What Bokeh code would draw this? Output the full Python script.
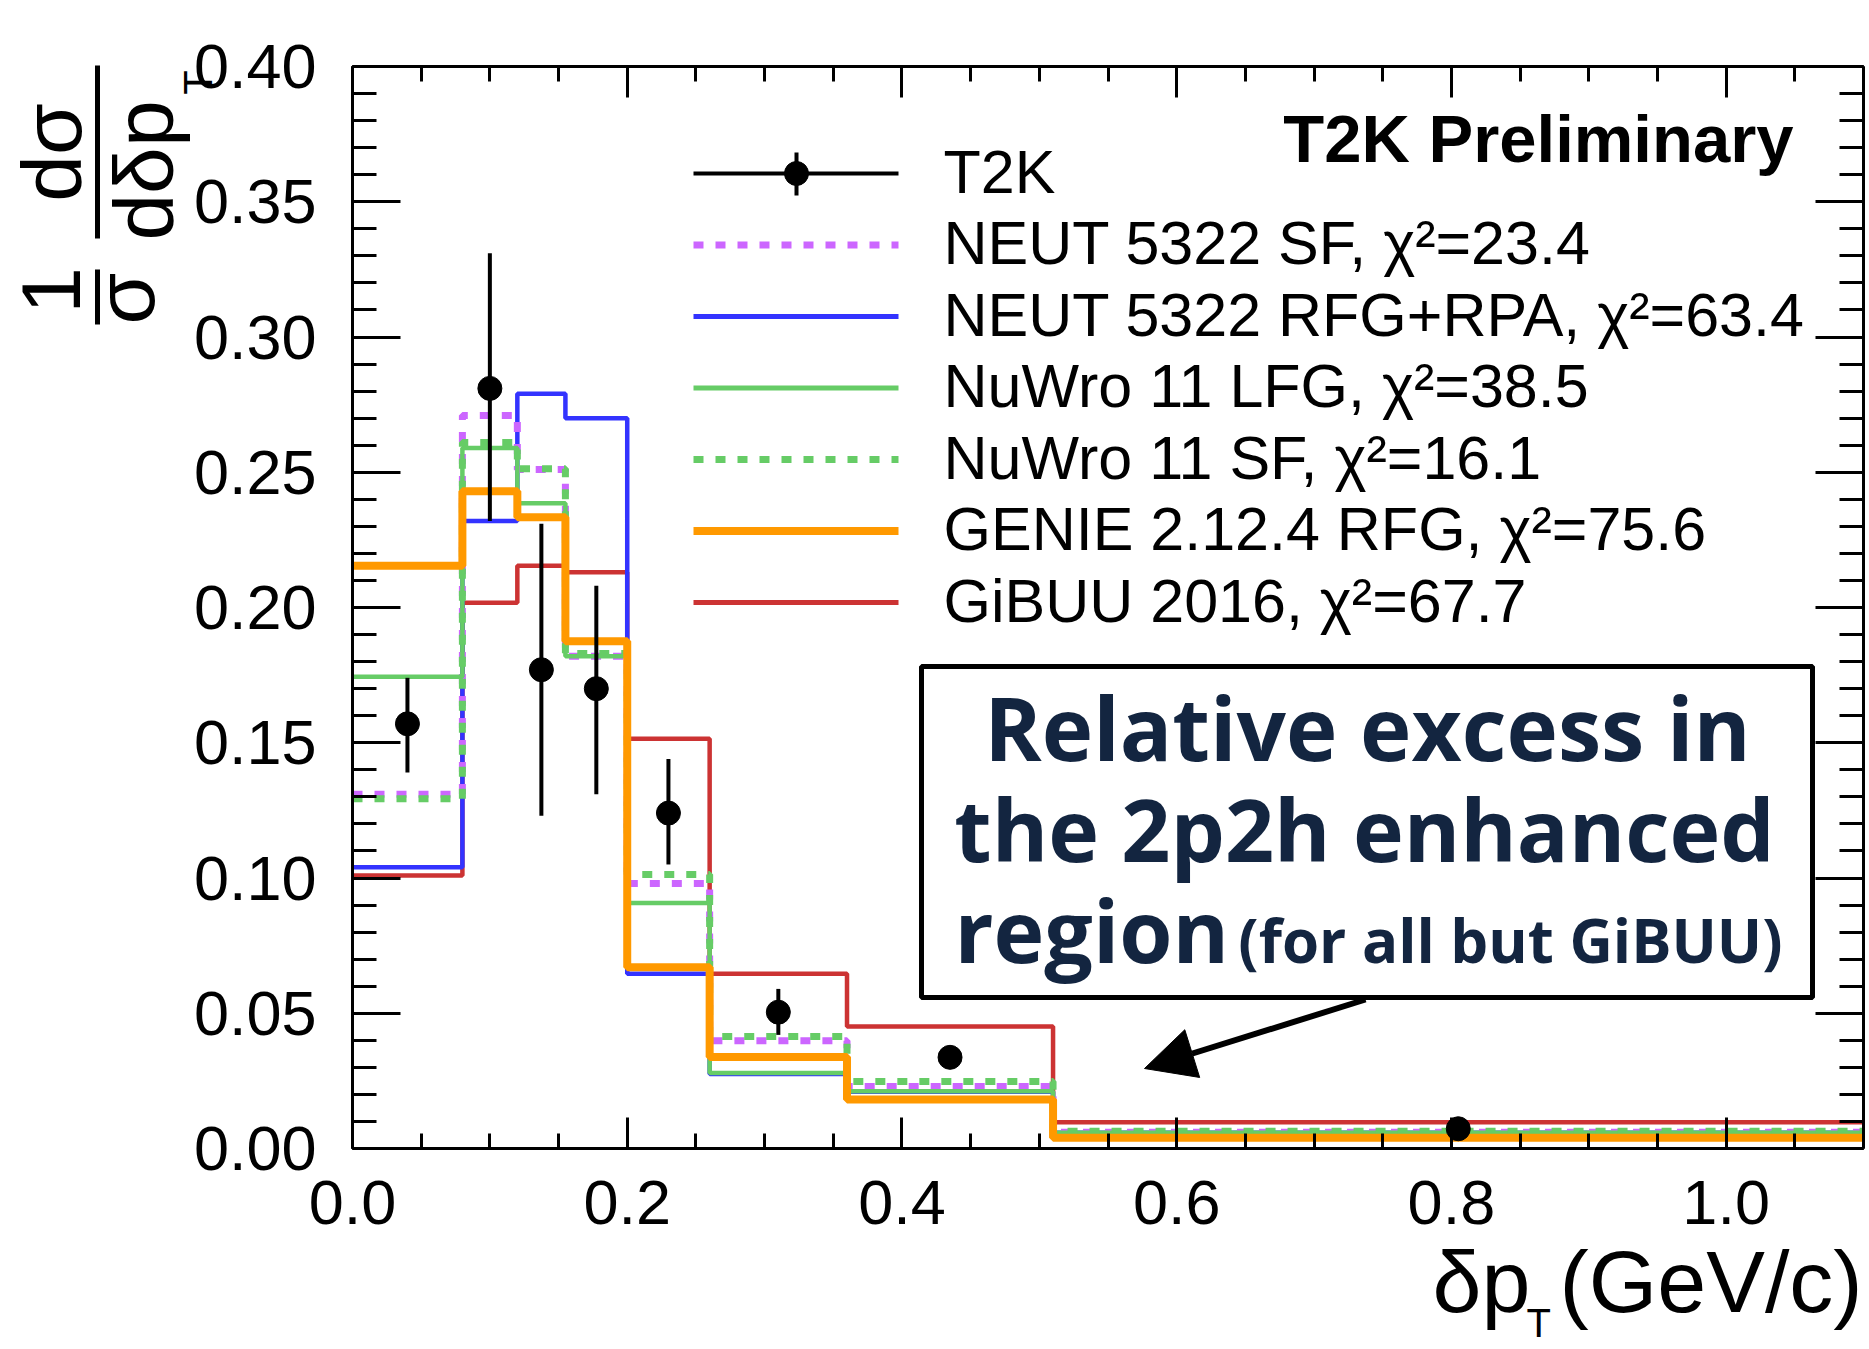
import math
from bokeh.plotting import figure
from bokeh.models import (FixedTicker, LinearAxis, PrintfTickFormatter, Label, Arrow,
                          NormalHead, BoxAnnotation, Range1d)
from bokeh.embed import file_html
from bokeh.resources import INLINE

# ---------------- data ----------------
bin_edges = [0.0, 0.08, 0.12, 0.155, 0.2, 0.26, 0.36, 0.51, 1.1]

t2k_x = [0.04, 0.10, 0.1375, 0.1775, 0.23, 0.31, 0.435, 0.805]
t2k_y = [0.157, 0.281, 0.177, 0.170, 0.124, 0.0504, 0.0337, 0.0073]
t2k_lo = [0.139, 0.232, 0.123, 0.131, 0.105, 0.042, 0.0310, 0.0058]
t2k_hi = [0.174, 0.331, 0.231, 0.208, 0.144, 0.059, 0.0364, 0.0088]

neut_sf = [0.131, 0.271, 0.251, 0.182, 0.098, 0.0398, 0.0229, 0.0060]
neut_rfg_rpa = [0.104, 0.232, 0.279, 0.270, 0.0646, 0.0275, 0.0210, 0.0058]
nuwro_lfg = [0.1744, 0.259, 0.2385, 0.182, 0.0908, 0.0279, 0.0212, 0.0058]
nuwro_sf = [0.1293, 0.261, 0.2513, 0.183, 0.1013, 0.0414, 0.0248, 0.0064]
genie_rfg = [0.2154, 0.243, 0.2334, 0.1875, 0.0670, 0.0338, 0.0181, 0.0040]
gibuu = [0.1009, 0.2018, 0.2154, 0.2130, 0.1515, 0.0646, 0.0451, 0.0097]

legend_labels = ["T2K",
                 "NEUT 5322 SF, \u03c7\u00b2=23.4",
                 "NEUT 5322 RFG+RPA, \u03c7\u00b2=63.4",
                 "NuWro 11 LFG, \u03c7\u00b2=38.5",
                 "NuWro 11 SF, \u03c7\u00b2=16.1",
                 "GENIE 2.12.4 RFG, \u03c7\u00b2=75.6",
                 "GiBUU 2016, \u03c7\u00b2=67.7"]

x_major = [0.0, 0.2, 0.4, 0.6, 0.8, 1.0]
x_minor = [round(0.05 * i, 2) for i in range(23)]
y_major = [0.0, 0.05, 0.10, 0.15, 0.20, 0.25, 0.30, 0.35, 0.40]
y_minor = [round(0.01 * i, 2) for i in range(41)]

# ---------------- layout ----------------
W, H = 1869, 1349
FL, FR, FT, FB = 352, 1863, 66, 1148   # plot box in canvas pixels
XMAX, YMAX = 1.1, 0.4


def dx(px):
    return (px - FL) / (FR - FL) * XMAX


def dy(py):
    return (FB - py) / (FB - FT) * YMAX


BL = 0.39  # baseline correction (em)

FONT = "Liberation Sans"
PURPLE = "#CC66FF"
BLUE = "#3333FF"
GREEN = "#66CC66"
ORANGE = "#FF9900"
RED = "#CC3333"
NAVY = "#132540"

p = figure(width=W, height=H, x_range=Range1d(dx(0), dx(W)), y_range=Range1d(dy(H), dy(0)),
           output_backend="svg", toolbar_location=None, title=None, min_border=0)
p.xgrid.visible = False
p.ygrid.visible = False
p.outline_line_color = None
p.background_fill_color = "white"
p.border_fill_color = "white"


def style_axis(ax, major, minor, tin, fmt, loc, bounds, labels=True, standoff=20):
    ax.ticker = FixedTicker(ticks=major, minor_ticks=minor)
    ax.formatter = PrintfTickFormatter(format=fmt)
    ax.fixed_location = loc
    ax.bounds = bounds
    ax.major_tick_in = tin
    ax.major_tick_out = 0
    ax.minor_tick_in = tin // 2
    ax.minor_tick_out = 0
    ax.major_tick_line_width = 3
    ax.minor_tick_line_width = 3
    ax.major_tick_line_color = "black"
    ax.minor_tick_line_color = "black"
    ax.axis_line_width = 3
    ax.axis_line_color = "black"
    if labels:
        ax.major_label_text_font = FONT
        ax.major_label_text_font_size = "63px"
        ax.major_label_text_color = "black"
        ax.major_label_standoff = standoff
    else:
        ax.major_label_text_alpha = 0
        ax.major_label_standoff = 0


style_axis(p.xaxis[0], x_major, x_minor, 31, "%.1f", 0.0, (0, XMAX), True, 32)
style_axis(p.yaxis[0], y_major, y_minor, 48, "%.2f", 0.0, (0, YMAX), True, 36)
top_ax = LinearAxis()
p.add_layout(top_ax, "above")
style_axis(top_ax, x_major, x_minor, 31, "%.1f", YMAX, (0, XMAX), False)
right_ax = LinearAxis()
p.add_layout(right_ax, "right")
style_axis(right_ax, y_major, y_minor, 48, "%.2f", XMAX, (0, YMAX), False)

# ---------------- histograms ----------------
hists = [
    (gibuu, RED, 4.5, "solid"),
    (neut_rfg_rpa, BLUE, 4.5, "solid"),
    (neut_sf, PURPLE, 7, "10 12"),
    (nuwro_lfg, GREEN, 4.5, "solid"),
    (nuwro_sf, GREEN, 7, "10 12"),
    (genie_rfg, ORANGE, 8, "solid"),
]
for vals, col, lw, dash in hists:
    p.step(x=bin_edges, y=vals + [vals[-1]], mode="after", line_color=col,
           line_width=lw, line_dash=dash, line_cap="butt")

# ---------------- data points ----------------
p.segment(x0=t2k_x, y0=t2k_lo, x1=t2k_x, y1=t2k_hi, line_color="black", line_width=4)
p.scatter(x=t2k_x, y=t2k_y, marker="circle", size=24, fill_color="black", line_color="black")


def text(px, py, s, fs, font=FONT, align="left", style="normal", color="black", angle=0.0):
    """Place text whose alphabetic baseline starts at canvas pixel (px, py)."""
    if angle:
        px = px - BL * fs
    else:
        py = py - BL * fs
    p.add_layout(Label(x=dx(px), y=dy(py), text=s, text_font=font, text_font_size=f"{fs}px",
                       text_font_style=style, text_color=color, text_align=align,
                       text_baseline="alphabetic", angle=angle))


# ---------------- legend (ROOT style) ----------------
leg_styles = [("black", 4, "solid"), (PURPLE, 7, "10 12"), (BLUE, 5, "solid"),
              (GREEN, 5, "solid"), (GREEN, 7, "10 12"), (ORANGE, 8, "solid"), (RED, 5, "solid")]
for i, (lab, (col, lw, dash)) in enumerate(zip(legend_labels, leg_styles)):
    ry = 173 + 71.5 * i
    p.line(x=[dx(693), dx(898)], y=[dy(ry), dy(ry)], line_color=col, line_width=lw,
           line_dash=dash, line_cap="butt")
    text(943, ry + 22, lab, 61)
p.segment(x0=[dx(796)], y0=[dy(152)], x1=[dx(796)], y1=[dy(195)], line_color="black", line_width=4)
p.scatter(x=[dx(796)], y=[dy(173)], marker="circle", size=24, fill_color="black", line_color="black")

text(1793, 164, "T2K Preliminary", 67, align="right", style="bold")

# ---------------- axis titles ----------------
text(1432, 1315, "\u03b4p", 88)
text(1526, 1338, "T", 40)
text(1559, 1315, "(GeV/c)", 88)

rot = math.pi / 2
for s, bx, cy, fs in [("1", 83, 290, 84), ("\u03c3", 157, 298, 84),
                      ("d\u03c3", 84, 152, 84), ("d\u03b4p", 176, 170, 84),
                      ("T", 213, 82, 40)]:
    text(bx, cy, s, fs, align="center", angle=rot)
for y0, y1 in [(269, 324), (65, 238)]:
    p.add_layout(Arrow(end=None, x_start=dx(97), y_start=dy(y0), x_end=dx(97), y_end=dy(y1),
                       line_width=5, line_color="black"))

# ---------------- annotation box ----------------
p.add_layout(BoxAnnotation(left=dx(921), right=dx(1812), top=dy(666), bottom=dy(997),
                           fill_color="white", fill_alpha=1.0, line_color="black",
                           line_width=5, line_alpha=1.0))
BOXFONT = "Open Sans"
text(1367, 760, "Relative excess in", 87, font=BOXFONT, align="center", style="bold", color=NAVY)
text(1364, 862, "the 2p2h enhanced", 86, font=BOXFONT, align="center", style="bold", color=NAVY)
text(954, 963, "region", 86, font=BOXFONT, align="left", style="bold", color=NAVY)
text(1782, 963, "(for all but GiBUU)", 60, font=BOXFONT, align="right", style="bold", color=NAVY)
p.add_layout(Arrow(x_start=dx(1365), y_start=dy(999), x_end=dx(1144), y_end=dy(1068),
                   line_width=6, line_color="black",
                   end=NormalHead(size=50, fill_color="black", line_color="black")))

open("out.html", "w").write(file_html(p, INLINE))
